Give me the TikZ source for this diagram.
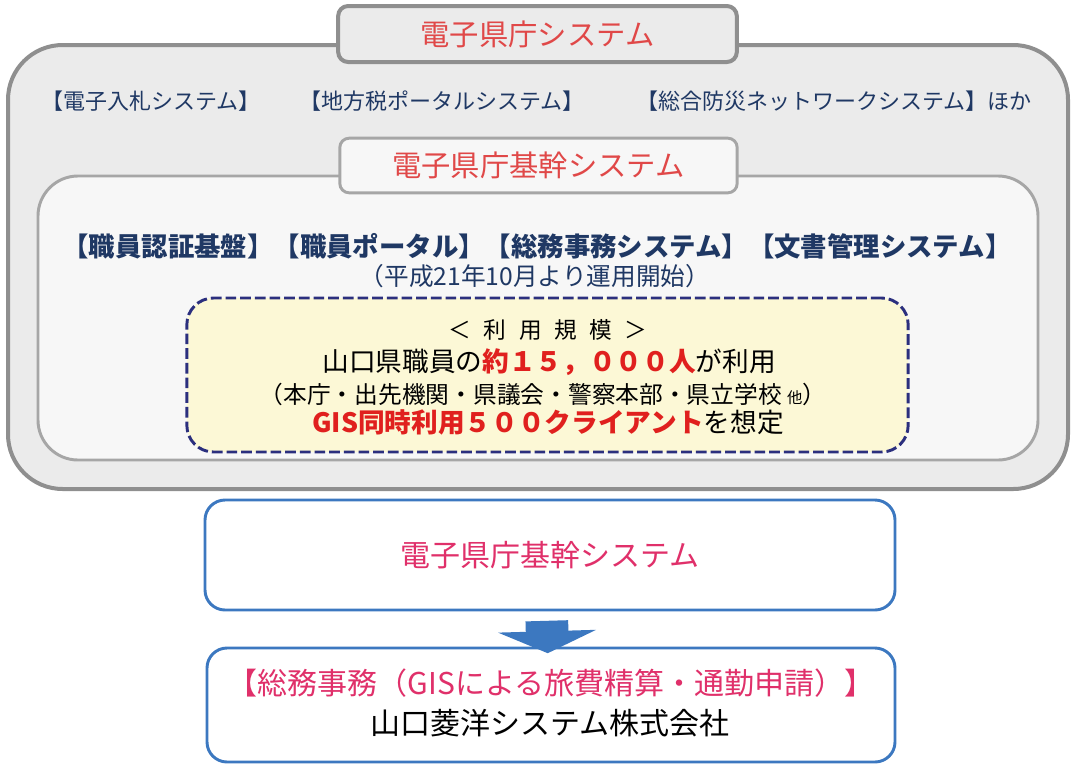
\documentclass[tikz,border=0pt]{standalone}
\usepackage{fontspec}
\setmainfont{Noto Sans CJK JP}
\usetikzlibrary{arrows.meta}
\definecolor{outergray}{HTML}{8F8F8F}
\definecolor{outerfill}{HTML}{EBEBEB}
\definecolor{innergray}{HTML}{A6A6A6}
\definecolor{innerfill}{HTML}{F7F7F7}
\definecolor{titlered}{HTML}{E04848}
\definecolor{navytext}{HTML}{1F3864}
\definecolor{dashnavy}{HTML}{2B2F7E}
\definecolor{notefill}{HTML}{FCF8D6}
\definecolor{hotred}{HTML}{E0201E}
\definecolor{boxblue}{HTML}{3C78C0}
\definecolor{pinkred}{HTML}{E0306A}

\begin{document}
\begin{tikzpicture}[x=0.75pt,y=-0.75pt,
	panel/.style={draw, rectangle, inner sep=0pt},
	heading/.style={font=\fontsize{22}{26}\selectfont, text=titlered},
	sysitem/.style={font=\fontsize{16.5}{20}\selectfont, text=navytext},
	coreitem/.style={font=\bfseries\fontsize{19.8}{23}\selectfont, text=navytext},
	bigarrow/.style={-{Triangle[width=73pt,length=16.5pt]}, line width=32pt, boxblue}]
	\useasboundingbox (0,0) rectangle (1078,768);

	% outer frame
	\node[panel, draw=outergray, fill=outerfill, line width=3pt, rounded corners=41pt,
		minimum width=795pt, minimum height=333pt] (outer) at (538,267) {};
	\node[panel, draw=outergray, fill=outerfill, line width=3pt, rounded corners=7.5pt,
		minimum width=299pt, minimum height=42pt, heading] (title) at (537.5,34) {電子県庁システム};

	\node[sysitem] (sys1) at (151,101) {【電子入札システム】};
	\node[sysitem] (sys2) at (442,101) {【地方税ポータルシステム】};
	\node[sysitem] (sys3) at (834,101) {【総合防災ネットワークシステム】ほか};

	% inner frame
	\node[panel, draw=innergray, fill=innerfill, line width=2.2pt, rounded corners=30pt,
		minimum width=750pt, minimum height=213pt] (inner) at (538,318) {};
	\node[panel, draw=innergray, fill=innerfill, line width=2.2pt, rounded corners=7pt,
		minimum width=298pt, minimum height=41pt, heading] (coretitle) at (538.5,165.5) {電子県庁基幹システム};

	\node[coreitem] (core) at (537,246) {【職員認証基盤】【職員ポータル】【総務事務システム】【文書管理システム】};
	\node[font=\fontsize{18.5}{22}\selectfont, text=navytext] (start) at (535,276) {（平成21年10月より運用開始）};

	% scale note
	\node[panel, draw=dashnavy, fill=notefill, line width=2.2pt, dash pattern=on 8pt off 3pt,
		rounded corners=20pt, minimum width=541pt, minimum height=115.5pt] (note) at (547.5,375) {};
	\node[font=\fontsize{17}{21}\selectfont] (scale) at (548,330)
		{＜\hspace{0.55em}利\hspace{0.55em}用\hspace{0.55em}規\hspace{0.55em}模\hspace{0.55em}＞};
	\node[font=\fontsize{20}{24}\selectfont] (staff) at (549,362)
		{山口県職員の{\bfseries\color{hotred}約１５，０００人}が利用};
	\node[font=\fontsize{17.8}{21}\selectfont] (sites) at (543,394)
		{（本庁・出先機関・県議会・警察本部・県立学校 {\fontsize{11.5}{13}\selectfont 他}）};
	\node[font=\fontsize{20}{24}\selectfont] (gis) at (548,422)
		{{\bfseries\color{hotred}GIS同時利用５００クライアント}を想定};

	% lower boxes
	\node[panel, draw=boxblue, fill=white, line width=2.2pt, rounded corners=15pt,
		minimum width=517.5pt, minimum height=82.5pt, font=\fontsize{22.5}{27}\selectfont,
		text=pinkred] (b3) at (550,555) {電子県庁基幹システム};
	\node[panel, draw=boxblue, fill=white, line width=2.2pt, rounded corners=15pt,
		minimum width=516pt, minimum height=85.5pt] (b4) at (551,705) {};
	\node[font=\fontsize{22.5}{27}\selectfont, text=pinkred] (task) at (551,683)
		{【総務事務（GISによる旅費精算・通勤申請）】};
	\node[font=\fontsize{22.5}{27}\selectfont] (vendor) at (550,723) {山口菱洋システム株式会社};

	\draw[bigarrow, shorten <=7pt, shorten >=-5pt] ([xshift=-2.6pt]b3.south) -- ([xshift=-2.6pt]b4.north);
\end{tikzpicture}
\end{document}
